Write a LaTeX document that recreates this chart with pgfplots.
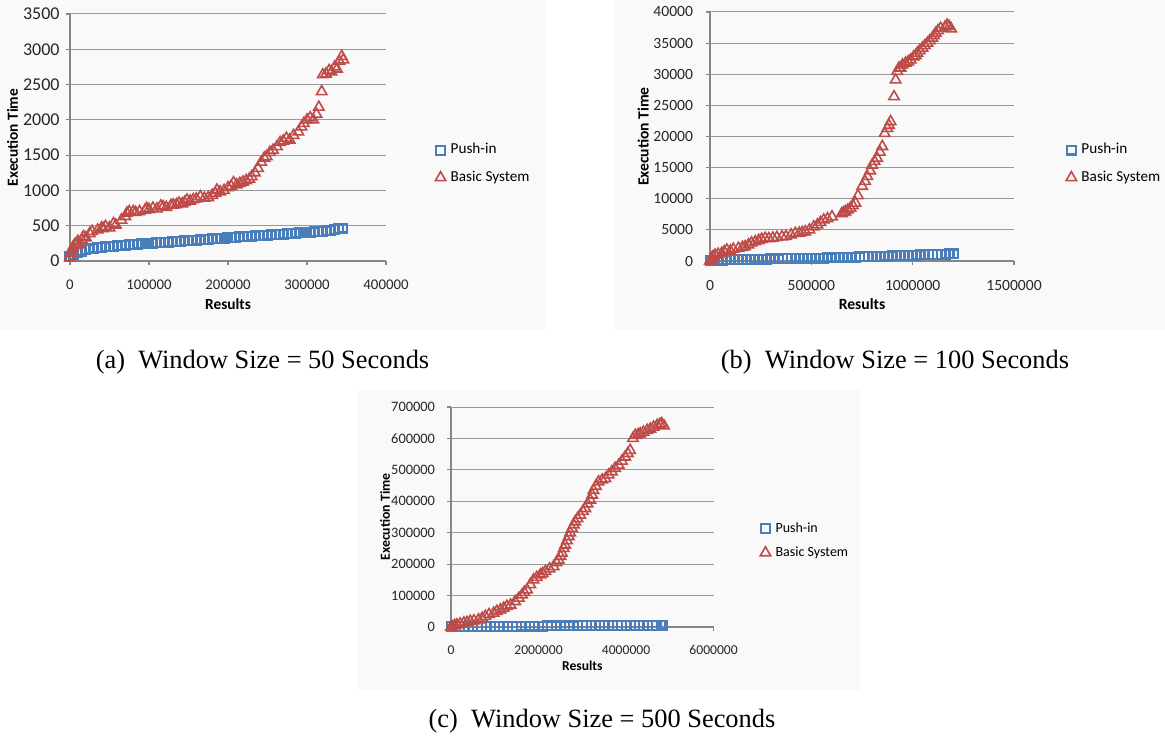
\documentclass[border=0pt]{standalone}
\usepackage{fontspec}
\setmainfont{Carlito}
\newfontfamily\capfont{Liberation Serif}
\usepackage{pgfplots}
\pgfplotsset{compat=1.18}
\definecolor{pushblue}{RGB}{74,126,187}
\definecolor{basicred}{RGB}{190,75,72}
\definecolor{gridgray}{RGB}{134,134,134}
\definecolor{panelbg}{RGB}{249,249,249}
\pgfplotsset{
  excel/.style={
    scale only axis,
    axis x line=bottom, axis y line=left,
    axis line style={draw=gridgray, line width=0.6pt, -},
    ymajorgrids, grid style={draw=gridgray!85, line width=0.5pt},
    tick align=outside, major tick length=2pt,
    tick style={draw=gridgray, line width=0.6pt},
    scaled ticks=false,
    /pgf/number format/fixed, /pgf/number format/1000 sep={},
    /pgf/number format/assume math mode=true,
    tick label style={text=black!85},
    clip=false,
    legend style={draw=none, fill=none, inner sep=0pt, row sep=7pt,
      nodes={inner sep=0pt, text height=5.2pt, text depth=1.5pt}},
    legend cell align=left,
    legend image code/.code={\draw[##1] plot coordinates {(0pt,0pt)}; \path (-3pt,0pt) (4.5pt,0pt);},
  },
  push/.style={only marks, mark=square, mark size=2.2pt, color=pushblue, line width=1.1pt},
  basic/.style={only marks, mark=triangle, mark size=3pt, color=basicred, line width=0.8pt},
}
\begin{document}
\begin{tikzpicture}
\path[use as bounding box] (0,0) rectangle (582.5pt,369pt);
\fill[panelbg] (0pt,204pt) rectangle (272.5pt,369pt);
\fill[panelbg] (307.5pt,204pt) rectangle (582.5pt,369pt);
\fill[panelbg] (178.5pt,24pt) rectangle (430pt,174pt);

% ---------------- (a)
\begin{axis}[excel, at={(35pt,238.5pt)}, anchor=south west, width=158pt, height=123.5pt,
  xmin=0, xmax=400000, ymin=0, ymax=3500,
  xtick={0,100000,200000,300000,400000},
  ytick={0,500,1000,1500,2000,2500,3000,3500},
  xticklabel style={anchor=north, inner sep=0pt, yshift=-7.2pt, font=\fontsize{7.4}{8}\selectfont},
  yticklabel style={anchor=east, inner sep=0pt, xshift=-3pt, font=\fontsize{9}{10}\selectfont},
  xlabel={Results}, ylabel={Execution Time},
  xlabel style={at={(axis description cs:0.5,-0.174)}, anchor=center, font=\bfseries\fontsize{7.7}{8}\selectfont},
  ylabel style={at={(axis description cs:-0.182,0.5)}, anchor=center, font=\bfseries\fontsize{7.7}{8}\selectfont},
  legend style={at={(axis description cs:1.149,0.393)}, anchor=west, font=\fontsize{7.6}{8}\selectfont},
]
\addplot[push] table {
x y
0 60
5000 90
10000 118
15000 140
20000 160
25000 172
30000 182
35000 188
40000 195
45000 199
50000 203
55000 209
60000 215
65000 220
70000 225
75000 230
80000 235
85000 238
90000 242
95000 246
100000 250
105000 254
110000 258
115000 262
120000 265
125000 269
130000 272
135000 276
140000 280
145000 284
150000 288
155000 291
160000 295
165000 299
170000 303
175000 308
180000 312
185000 316
190000 321
195000 325
200000 330
205000 334
210000 337
215000 341
220000 345
225000 349
230000 352
235000 356
240000 360
245000 364
250000 367
255000 371
260000 375
265000 379
270000 382
275000 386
280000 390
285000 394
290000 397
295000 401
300000 405
305000 409
310000 412
315000 416
320000 420
325000 427
330000 435
335000 445
340000 455
345000 465
};
\addlegendentry{Push-in}
\addplot[basic] table {
x y
0 50
1000 110
3000 160
4000 200
6000 230
8000 250
10000 280
12000 230
15000 300
17000 345
20000 330
25000 390
28000 420
35000 440
40000 470
42000 460
45000 490
50000 470
55000 530
58000 510
65000 580
70000 630
72000 680
75000 700
80000 700
83000 690
88000 700
95000 720
97000 746
100000 730
105000 750
110000 740
115000 780
118000 770
122000 760
128000 790
131000 794
135000 800
138000 820
142000 810
145000 830
148000 864
152000 850
156000 870
160000 880
165000 912
170000 890
175000 900
180000 930
184000 960
186000 1006
190000 980
195000 1000
200000 1040
204000 1060
207000 1110
211000 1080
215000 1100
219000 1120
223000 1140
227000 1160
230000 1195
234000 1250
238000 1313
242000 1400
246000 1460
249000 1480
253000 1540
257000 1570
262000 1620
266000 1680
270000 1700
274000 1740
278000 1715
283000 1780
289000 1830
293000 1900
296000 1950
300000 2000
304000 2030
308000 2000
312000 2080
315000 2180
318600 2400
320000 2640
324000 2650
328000 2700
331000 2680
335000 2750
338000 2720
341000 2830
344000 2900
346000 2850
};
\addlegendentry{Basic System}
\end{axis}

% ---------------- (b)
\begin{axis}[excel, at={(355pt,238.5pt)}, anchor=south west, width=152pt, height=124.5pt,
  xmin=0, xmax=1500000, ymin=0, ymax=40000,
  xtick={0,500000,1000000,1500000},
  ytick={0,5000,10000,15000,20000,25000,30000,35000,40000},
  xticklabel style={anchor=north, inner sep=0pt, yshift=-7.5pt, font=\fontsize{7.8}{8}\selectfont},
  yticklabel style={anchor=east, inner sep=0pt, xshift=-6.3pt, font=\fontsize{7.8}{8}\selectfont},
  xlabel={Results}, ylabel={Execution Time},
  xlabel style={at={(axis description cs:0.5,-0.173)}, anchor=center, font=\bfseries\fontsize{7.8}{8}\selectfont},
  ylabel style={at={(axis description cs:-0.220,0.5)}, anchor=center, font=\bfseries\fontsize{7.8}{8}\selectfont},
  legend style={at={(axis description cs:1.164,0.39)}, anchor=west, font=\fontsize{7.6}{8}\selectfont},
]
\addplot[push] table {
x y
0 60
20000 100
40000 130
60000 150
80000 170
100000 200
120000 215
140000 230
160000 250
180000 265
200000 280
220000 290
240000 300
260000 310
280000 320
300000 330
320000 340
340000 350
360000 360
380000 370
400000 380
420000 390
440000 400
460000 410
480000 420
500000 430
520000 445
540000 460
560000 470
580000 485
600000 500
620000 525
640000 550
660000 570
680000 595
700000 620
720000 640
740000 660
760000 680
780000 700
800000 720
820000 740
840000 760
860000 780
880000 800
900000 820
920000 840
940000 860
960000 885
980000 905
1000000 930
1020000 955
1040000 980
1060000 1000
1080000 1025
1100000 1050
1120000 1070
1140000 1090
1160000 1110
1180000 1130
1200000 1150
};
\addlegendentry{Push-in}
\addplot[basic] table {
x y
0 0
5000 300
8000 430
15000 700
25000 970
40000 1100
58000 1230
70000 1500
83000 1770
100000 1600
115000 1900
140000 2050
160000 2200
173000 2300
190000 2600
205000 2900
223000 3100
240000 3300
255000 3500
272000 3650
290000 3600
310000 3700
330000 3800
355000 3900
375000 3950
400000 4200
421000 4450
440000 4500
455000 4600
470000 4700
490000 5000
512000 5500
530000 5800
545000 6200
561000 6600
580000 6800
602000 7100
650000 7600
660000 7800
668000 7900
680000 8200
693000 8500
705000 8900
718000 9300
730000 10500
751000 12000
765000 12800
776000 13600
790000 14500
800000 15400
812000 16000
825000 16500
838000 17500
850000 18400
862000 20500
875000 21300
883000 21800
891000 22400
908000 26400
916000 29100
924000 30450
932000 31000
940000 31000
950000 31500
965000 31800
978000 32000
990000 32300
1005000 32800
1015000 33000
1023000 33400
1035000 33800
1048000 34200
1060000 34600
1073000 35000
1085000 35400
1097000 35800
1105000 36200
1114000 36600
1125000 37000
1138000 37400
1160000 37600
1170000 37900
1180000 37700
1190000 37300
};
\addlegendentry{Basic System}
\end{axis}

% ---------------- (c)
\begin{axis}[excel, at={(225.5pt,55.5pt)}, anchor=south west, width=131.3pt, height=110pt,
  xmin=0, xmax=6000000, ymin=0, ymax=700000,
  xtick={0,2000000,4000000,6000000},
  ytick={0,100000,200000,300000,400000,500000,600000,700000},
  xticklabel style={anchor=north, inner sep=0pt, yshift=-7pt, font=\fontsize{6.8}{7}\selectfont},
  yticklabel style={anchor=east, inner sep=0pt, xshift=-5.8pt, font=\fontsize{7.2}{8}\selectfont},
  xlabel={Results}, ylabel={Execution Time},
  xlabel style={at={(axis description cs:0.5,-0.177)}, anchor=center, font=\bfseries\fontsize{6.8}{7}\selectfont},
  ylabel style={at={(axis description cs:-0.251,0.5)}, anchor=center, font=\bfseries\fontsize{6.9}{7}\selectfont},
  legend style={at={(axis description cs:1.169,0.393)}, anchor=west, row sep=5.5pt, font=\fontsize{7}{8}\selectfont},
]
\addplot[push] table {
x y
0 1000
100000 1100
200000 1200
300000 1300
400000 1400
500000 1500
600000 1600
700000 1700
800000 1800
900000 1900
1000000 2000
1100000 2100
1200000 2200
1300000 2300
1400000 2400
1500000 2500
1600000 2600
1700000 2700
1800000 2800
1900000 2900
2000000 3000
2100000 3100
2200000 3200
2300000 3300
2400000 3400
2500000 3500
2600000 3600
2700000 3700
2800000 3800
2900000 3900
3000000 4000
3100000 4100
3200000 4200
3300000 4300
3400000 4400
3500000 4500
3600000 4600
3700000 4700
3800000 4800
3900000 4900
4000000 5000
4100000 5100
4200000 5200
4300000 5300
4400000 5400
4500000 5500
4600000 5600
4700000 5700
4800000 5800
4840000 5900
};
\addlegendentry{Push-in}
\addplot[basic] table {
x y
0 0
21000 2000
84000 5000
136000 7000
209000 10000
293000 13000
366000 15000
440000 18000
524000 20000
628000 23000
712000 28000
785000 34000
869000 40000
974000 44000
1047000 50000
1131000 55000
1204000 60000
1277000 66000
1361000 70000
1466000 81000
1550000 92000
1623000 102000
1675000 110000
1738000 118000
1811000 135000
1885000 150000
1958000 158000
2042000 166000
2094000 170000
2157000 177000
2251000 185000
2345000 192000
2408000 205000
2460000 213000
2502000 225000
2534000 235000
2576000 250000
2607000 261000
2649000 275000
2691000 288000
2722000 300000
2764000 314000
2806000 325000
2837000 335000
2890000 345000
2953000 356000
3015000 368000
3068000 377000
3120000 392000
3183000 404000
3225000 420000
3256000 435000
3309000 448000
3371000 462000
3455000 468000
3528000 472000
3602000 484000
3675000 494000
3748000 505000
3832000 515000
3905000 528000
3979000 541000
4041000 552000
4094000 562000
4157000 600000
4209000 610000
4272000 612000
4324000 615000
4397000 620000
4482000 626000
4554000 630000
4628000 636000
4712000 642000
4774000 645000
4816000 647000
4868000 640000
};
\addlegendentry{Basic System}
\end{axis}

\node[anchor=base] at (131.25pt,184.5pt) {\capfont\fontsize{13.2}{15}\selectfont (a)\hspace{0.5em}Window Size = 50 Seconds};
\node[anchor=base] at (447.5pt,184.5pt) {\capfont\fontsize{13.2}{15}\selectfont (b)\hspace{0.5em}Window Size = 100 Seconds};
\node[anchor=base] at (301pt,5.5pt) {\capfont\fontsize{13.2}{15}\selectfont (c)\hspace{0.5em}Window Size = 500 Seconds};
\end{tikzpicture}
\end{document}
